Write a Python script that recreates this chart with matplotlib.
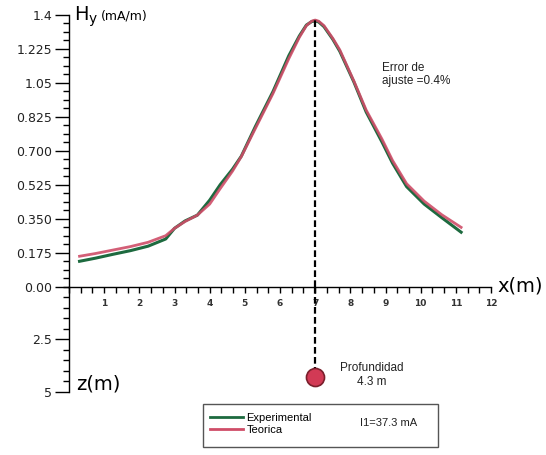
import matplotlib
matplotlib.use("Agg")
import matplotlib.pyplot as plt
from matplotlib.patches import Rectangle
from matplotlib.lines import Line2D
import numpy as np

# ---- data ----
x_pos = [0.3, 0.75, 1.25, 1.75, 2.25, 2.75, 3.0, 3.3, 3.65, 4.0, 4.3, 4.65, 4.9, 5.3, 5.8,
         6.25, 6.55, 6.75, 6.9, 7.0, 7.1, 7.25, 7.5, 7.7, 8.1, 8.45, 8.9, 9.2, 9.6, 10.1,
         10.6, 11.15]
hy_teorica = [0.156, 0.170, 0.188, 0.206, 0.228, 0.262, 0.300, 0.335, 0.368, 0.425, 0.505,
              0.595, 0.670, 0.815, 0.995, 1.175, 1.285, 1.345, 1.368, 1.374, 1.368, 1.345,
              1.280, 1.220, 1.060, 0.910, 0.760, 0.650, 0.530, 0.440, 0.370, 0.305]
hy_experimental = [0.130, 0.146, 0.166, 0.185, 0.208, 0.245, 0.300, 0.338, 0.368, 0.445, 0.525,
                   0.605, 0.672, 0.825, 1.005, 1.190, 1.292, 1.348, 1.366, 1.370, 1.364, 1.340,
                   1.275, 1.213, 1.055, 0.900, 0.745, 0.636, 0.515, 0.425, 0.355, 0.280]
y_ticks = [0.0, 0.175, 0.35, 0.525, 0.70, 0.875, 1.05, 1.225, 1.4]
y_ticklabels = ["0.00", "0.175", "0.350", "0.525", "0.700", "0.825", "1.05", "1.225", "1.4"]
x_ticks = list(range(1, 13))
z_ticks = [2.5, 5]
z_ticklabels = ["2.5", "5"]
source_x = 7.0
source_depth = 4.3
peak_value = 1.374

GREEN = "#1d6a3f"
RED = "#cf4d68"

fig = plt.figure(figsize=(5.46, 4.55), dpi=100)
fig.patch.set_facecolor("white")

W, H = 546.0, 455.0
x0_px, x12_px = 69.0, 491.0
y0_px, y14_px = 286.5, 15.0
z5_px = 392.0

ax = fig.add_axes([x0_px / W, 1 - y0_px / H, (x12_px - x0_px) / W, (y0_px - y14_px) / H])
ax2 = fig.add_axes([x0_px / W, 1 - z5_px / H, (x12_px - x0_px) / W, (z5_px - y0_px) / H], sharex=ax)

for a in (ax, ax2):
    a.set_facecolor("none")
    for s in ("top", "right"):
        a.spines[s].set_visible(False)

ax.set_xlim(0, 12)
ax.set_ylim(0, 1.4)
ax2.set_ylim(5, 0)
ax2.spines["bottom"].set_visible(False)

# upper y axis
ax.set_yticks(y_ticks)
ax.set_yticklabels(y_ticklabels, fontsize=9, family="DejaVu Sans", color="#222222")
ax.set_yticks(np.arange(0, 1.4001, 0.175 / 4), minor=True)
ax.tick_params(axis="y", which="major", length=10, width=1, pad=2)
ax.tick_params(axis="y", which="minor", length=4, width=1)

# x axis
ax.set_xticks(x_ticks)
ax.set_xticklabels([str(v) for v in x_ticks], fontsize=6.5, fontweight="bold", color="#333333")
ax.set_xticks(np.arange(0, 12.001, 1 / 3), minor=True)
ax.tick_params(axis="x", which="both", direction="out", length=4, width=1, pad=5)
ax2.tick_params(axis="x", which="both", bottom=False, labelbottom=False)

# lower z axis
ax2.set_yticks(z_ticks)
ax2.set_yticklabels(z_ticklabels, fontsize=9, family="DejaVu Sans", color="#222222")
ax2.set_yticks(np.arange(0, 5.001, 0.5), minor=True)
ax2.tick_params(axis="y", which="major", length=10, width=1, pad=2)
ax2.tick_params(axis="y", which="minor", length=4, width=1)

for a in (ax, ax2):
    a.spines["left"].set_linewidth(1)
ax.spines["bottom"].set_linewidth(1)

# curves
ax.plot(x_pos, hy_experimental, color=GREEN, lw=2.2, clip_on=False, zorder=3,
        solid_joinstyle="round")
ax.plot(x_pos, hy_teorica, color=RED, lw=2.0, clip_on=False, zorder=4, alpha=0.9,
        solid_joinstyle="round")

# dashed line from peak to source
ax.plot([source_x, source_x], [0, peak_value], color="black", lw=1.6, ls=(0, (3, 1.5)), zorder=5, clip_on=False)
ax2.plot([source_x, source_x], [0, source_depth], color="black", lw=1.6, ls=(0, (3, 1.5)), zorder=5, clip_on=False)
ax2.plot([source_x], [source_depth], marker="o", ms=13, mfc="#d23a55", mec="#7a1f2c", mew=1.2,
         zorder=6, clip_on=False)

# texts
ax.text(8.9, 1.16, "Error de\najuste =0.4%", fontsize=8.5, family="Liberation Sans", va="top",
        ha="left", linespacing=1.2, color="#222222")
ax2.text(8.62, 4.2, "Profundidad\n4.3 m", fontsize=8.5, family="Liberation Sans", va="center",
         ha="center", multialignment="center", linespacing=1.25, color="#222222")

fig.text(74 / W, 1 - 17 / H, r"H$_{\mathrm{y}}$", fontsize=14, family="DejaVu Sans", va="center", ha="left")
fig.text(101 / W, 1 - 16 / H, "(mA/m)", fontsize=9, family="DejaVu Sans", va="center", ha="left")
fig.text(497 / W, 1 - 286 / H, "x(m)", fontsize=14, family="DejaVu Sans", va="center", ha="left")
fig.text(76 / W, 1 - 384 / H, "z(m)", fontsize=14, family="DejaVu Sans", va="center", ha="left")

# legend box
fig.patches.append(Rectangle((203 / W, 1 - 447 / H), 235 / W, 43 / H, transform=fig.transFigure,
                             fill=False, edgecolor="#555555", lw=1.0))
handles = [Line2D([], [], color=GREEN, lw=2.0), Line2D([], [], color=RED, lw=2.0)]
fig.legend(handles, ["Experimental", "Teorica"], loc="center left",
           bbox_to_anchor=(202 / W, 1 - 424 / H), frameon=False,
           prop={"family": "Liberation Sans", "size": 8}, handlelength=3.0,
           handletextpad=0.3, labelspacing=0.15, borderpad=0.2)
fig.text(360 / W, 1 - 423 / H, "I1=37.3 mA", fontsize=8, family="Liberation Sans", va="center", ha="left",
         color="#222222")

fig.savefig("out.png", dpi=100, facecolor="white")
